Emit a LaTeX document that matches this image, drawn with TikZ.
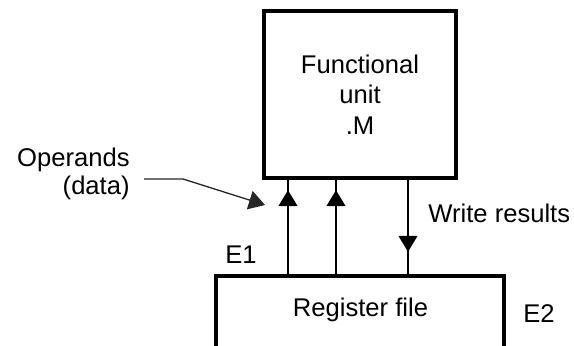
\documentclass[tikz,border=0pt]{standalone}
\usepackage{fontspec}
\setmainfont{Liberation Sans}
\usetikzlibrary{arrows.meta,decorations.markings}

\tikzset{
  unitbox/.style={draw=black, line width=1.8pt, rectangle, inner sep=0pt, fill=white},
  lbl/.style={inner sep=0pt, font=\fontsize{12.8}{15}\selectfont},
  tri/.tip={Triangle[length=8pt, width=9.5pt]},
  bus/.style={line width=0.7pt},
  busup/.style={bus, postaction={decorate}, decoration={markings,
      mark=at position #1 with {\arrow{tri}}}},
  feed/.style={line width=0.65pt, draw=black!85, -{tri}},
}

\begin{document}
\begin{tikzpicture}[x=0.5pt, y=-0.5pt]
  \useasboundingbox (0,0) rectangle (574,346);
  \clip (0,0) rectangle (574,346);

  % functional unit and register file
  \node[unitbox, minimum width=96pt, minimum height=83.5pt, align=center,
        font=\fontsize{12.8}{15.25}\selectfont] (fu) at (360,94.5)
        {Functional\\unit\\.M};
  \node[unitbox, minimum width=144pt, minimum height=45pt] (rf) at (360,321) {};
  \node[lbl, anchor=base] (rflabel) at (360.5,317) {Register file};

  % bus lines between the two boxes
  \coordinate (b1) at (288,0);
  \coordinate (b2) at (336,0);
  \coordinate (b3) at (408,0);
  \draw[busup=42pt] (b1 |- rf.north) -- (b1 |- fu.south);
  \draw[busup=42pt] (b2 |- rf.north) -- (b2 |- fu.south);
  \draw[busup=36pt] (b3 |- fu.south) -- (b3 |- rf.north);

  % labels
  \node[lbl, align=right, anchor=east, font=\fontsize{12.8}{13.65}\selectfont]
        (ops) at (130,174) {Operands\\(data)};
  \node[lbl, anchor=base west] (wr) at (428,223) {Write results};
  \node[lbl, anchor=base west] (e1) at (225,264) {E1};
  \node[lbl, anchor=base west] (e2) at (523,323) {E2};

  % operand feed arrow
  \coordinate (opsA) at (144,179);
  \coordinate (opsB) at (183,179);
  \coordinate (opsT) at (265,205);
  \draw[feed] (opsA) -- (opsB) -- (opsT);
\end{tikzpicture}
\end{document}
